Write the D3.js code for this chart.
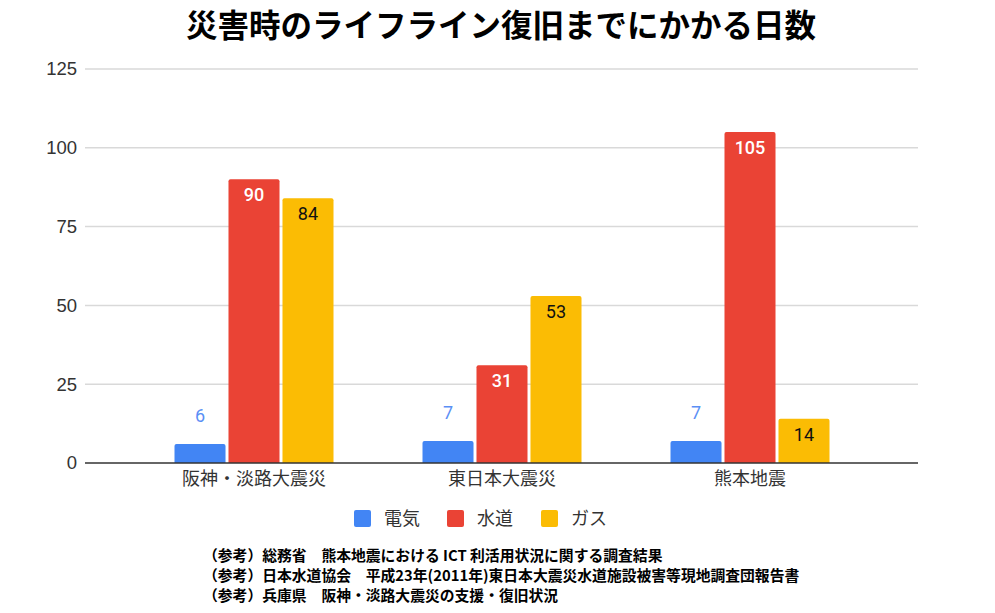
<!DOCTYPE html>
<html><head><meta charset="utf-8">
<script src="https://cdn.jsdelivr.net/npm/d3@7"></script>
<style>body{margin:0;background:#fff}svg{display:block}</style>
</head><body><svg id="c" width="995" height="613"></svg>
<script>
const title = "災害時のライフライン復旧までにかかる日数";
const categories = ["阪神・淡路大震災", "東日本大震災", "熊本地震"];
const seriesNames = ["電気", "水道", "ガス"];
const electricity = [6, 7, 7];
const water = [90, 31, 105];
const gas = [84, 53, 14];
const yTicks = [0, 25, 50, 75, 100, 125];
const colors = ["#4285F4", "#EA4335", "#FBBC04"];
const notes = [
  "（参考）総務省　熊本地震における ICT 利活用状況に関する調査結果",
  "（参考）日本水道協会　平成23年(2011年)東日本大震災水道施設被害等現地調査団報告書",
  "（参考）兵庫県　阪神・淡路大震災の支援・復旧状況"
];
const series = [electricity, water, gas];
const font = "'Noto Sans CJK JP','Noto Sans',sans-serif";

const svg = d3.select("#c");
const plotL = 85, plotR = 918, plotT = 69, plotB = 463;
const y = d3.scaleLinear().domain([0, 125]).range([plotB, plotT]);
const x0 = d3.scaleBand().domain(categories).range([130, 874]);
const x1 = d3.scaleBand().domain(d3.range(3)).range([0, 159]).paddingInner(0.055);

svg.append("text").attr("x", 501).attr("y", 37).attr("text-anchor", "middle")
  .attr("font-family", font).attr("font-weight", "bold").attr("font-size", 31.5).attr("fill", "#000").text(title);

// grid
svg.append("g").selectAll("line").data(yTicks.filter(d => d > 0)).join("line")
  .attr("x1", plotL).attr("x2", plotR).attr("y1", d => y(d)).attr("y2", d => y(d))
  .attr("stroke", "#d9d9d9").attr("stroke-width", 1.5);

const yAxis = svg.append("g").attr("transform", `translate(${plotL},0)`)
  .call(d3.axisLeft(y).tickValues(yTicks).tickSize(0).tickPadding(8));
yAxis.select(".domain").remove();
yAxis.attr("font-family", "'Liberation Sans', Arial, sans-serif").attr("font-size", 18.5);
yAxis.selectAll("text").style("font-family", "'Liberation Sans', Arial, sans-serif").style("font-size", "18.5px").attr("fill", "#333");

// bars
const groups = svg.append("g").selectAll("g").data(categories).join("g")
  .attr("transform", d => `translate(${x0(d) + x0.bandwidth() / 2 - 79.5},0)`);
groups.each(function(cat, ci) {
  const g = d3.select(this);
  series.forEach((s, si) => {
    const v = s[ci];
    const bx = x1(si), bw = x1.bandwidth();
    g.append("path").attr("fill", colors[si])
      .attr("d", () => {
        const r = 2, top = y(v), bot = y(0);
        return `M${bx},${bot}V${top + r}Q${bx},${top} ${bx + r},${top}H${bx + bw - r}Q${bx + bw},${top} ${bx + bw},${top + r}V${bot}Z`;
      });
    const t = g.append("text").attr("x", bx + bw / 2).attr("text-anchor", "middle")
      .attr("font-family", "Roboto, 'Noto Sans', sans-serif").attr("font-size", 18).text(v);
    if (si === 0) {
      t.attr("y", y(v) - 22).attr("fill", "#5b8ff5");
    } else if (si === 1) {
      t.attr("y", y(v) + 22).attr("fill", "#fff").attr("font-weight", "500");
    } else {
      t.attr("y", y(v) + 22).attr("fill", "#111");
    }
  });
});

// baseline
svg.append("line").attr("x1", plotL).attr("x2", plotR).attr("y1", y(0)).attr("y2", y(0))
  .attr("stroke", "#333").attr("stroke-width", 1.5);

const xAxis = svg.append("g").attr("transform", `translate(0,${plotB})`)
  .call(d3.axisBottom(x0).tickSize(0).tickPadding(9));
xAxis.select(".domain").remove();
xAxis.selectAll("text").attr("font-family", font).attr("font-size", 18).attr("fill", "#333");

// legend
const legX = [354, 447, 541];
const leg = svg.append("g").selectAll("g").data(seriesNames).join("g")
  .attr("transform", (d, i) => `translate(${legX[i]},510)`);
leg.append("rect").attr("width", 17).attr("height", 17).attr("rx", 2).attr("fill", (d, i) => colors[i]);
leg.append("text").attr("x", 30).attr("y", 15).attr("font-family", font).attr("font-size", 18).attr("fill", "#333").text(d => d);

// notes
svg.append("g").selectAll("text").data(notes).join("text")
  .attr("x", 203).attr("y", (d, i) => 561 + i * 20)
  .attr("font-family", font).attr("font-weight", "bold").attr("font-size", 14.8).attr("fill", "#000").text(d => d);
</script></body></html>
